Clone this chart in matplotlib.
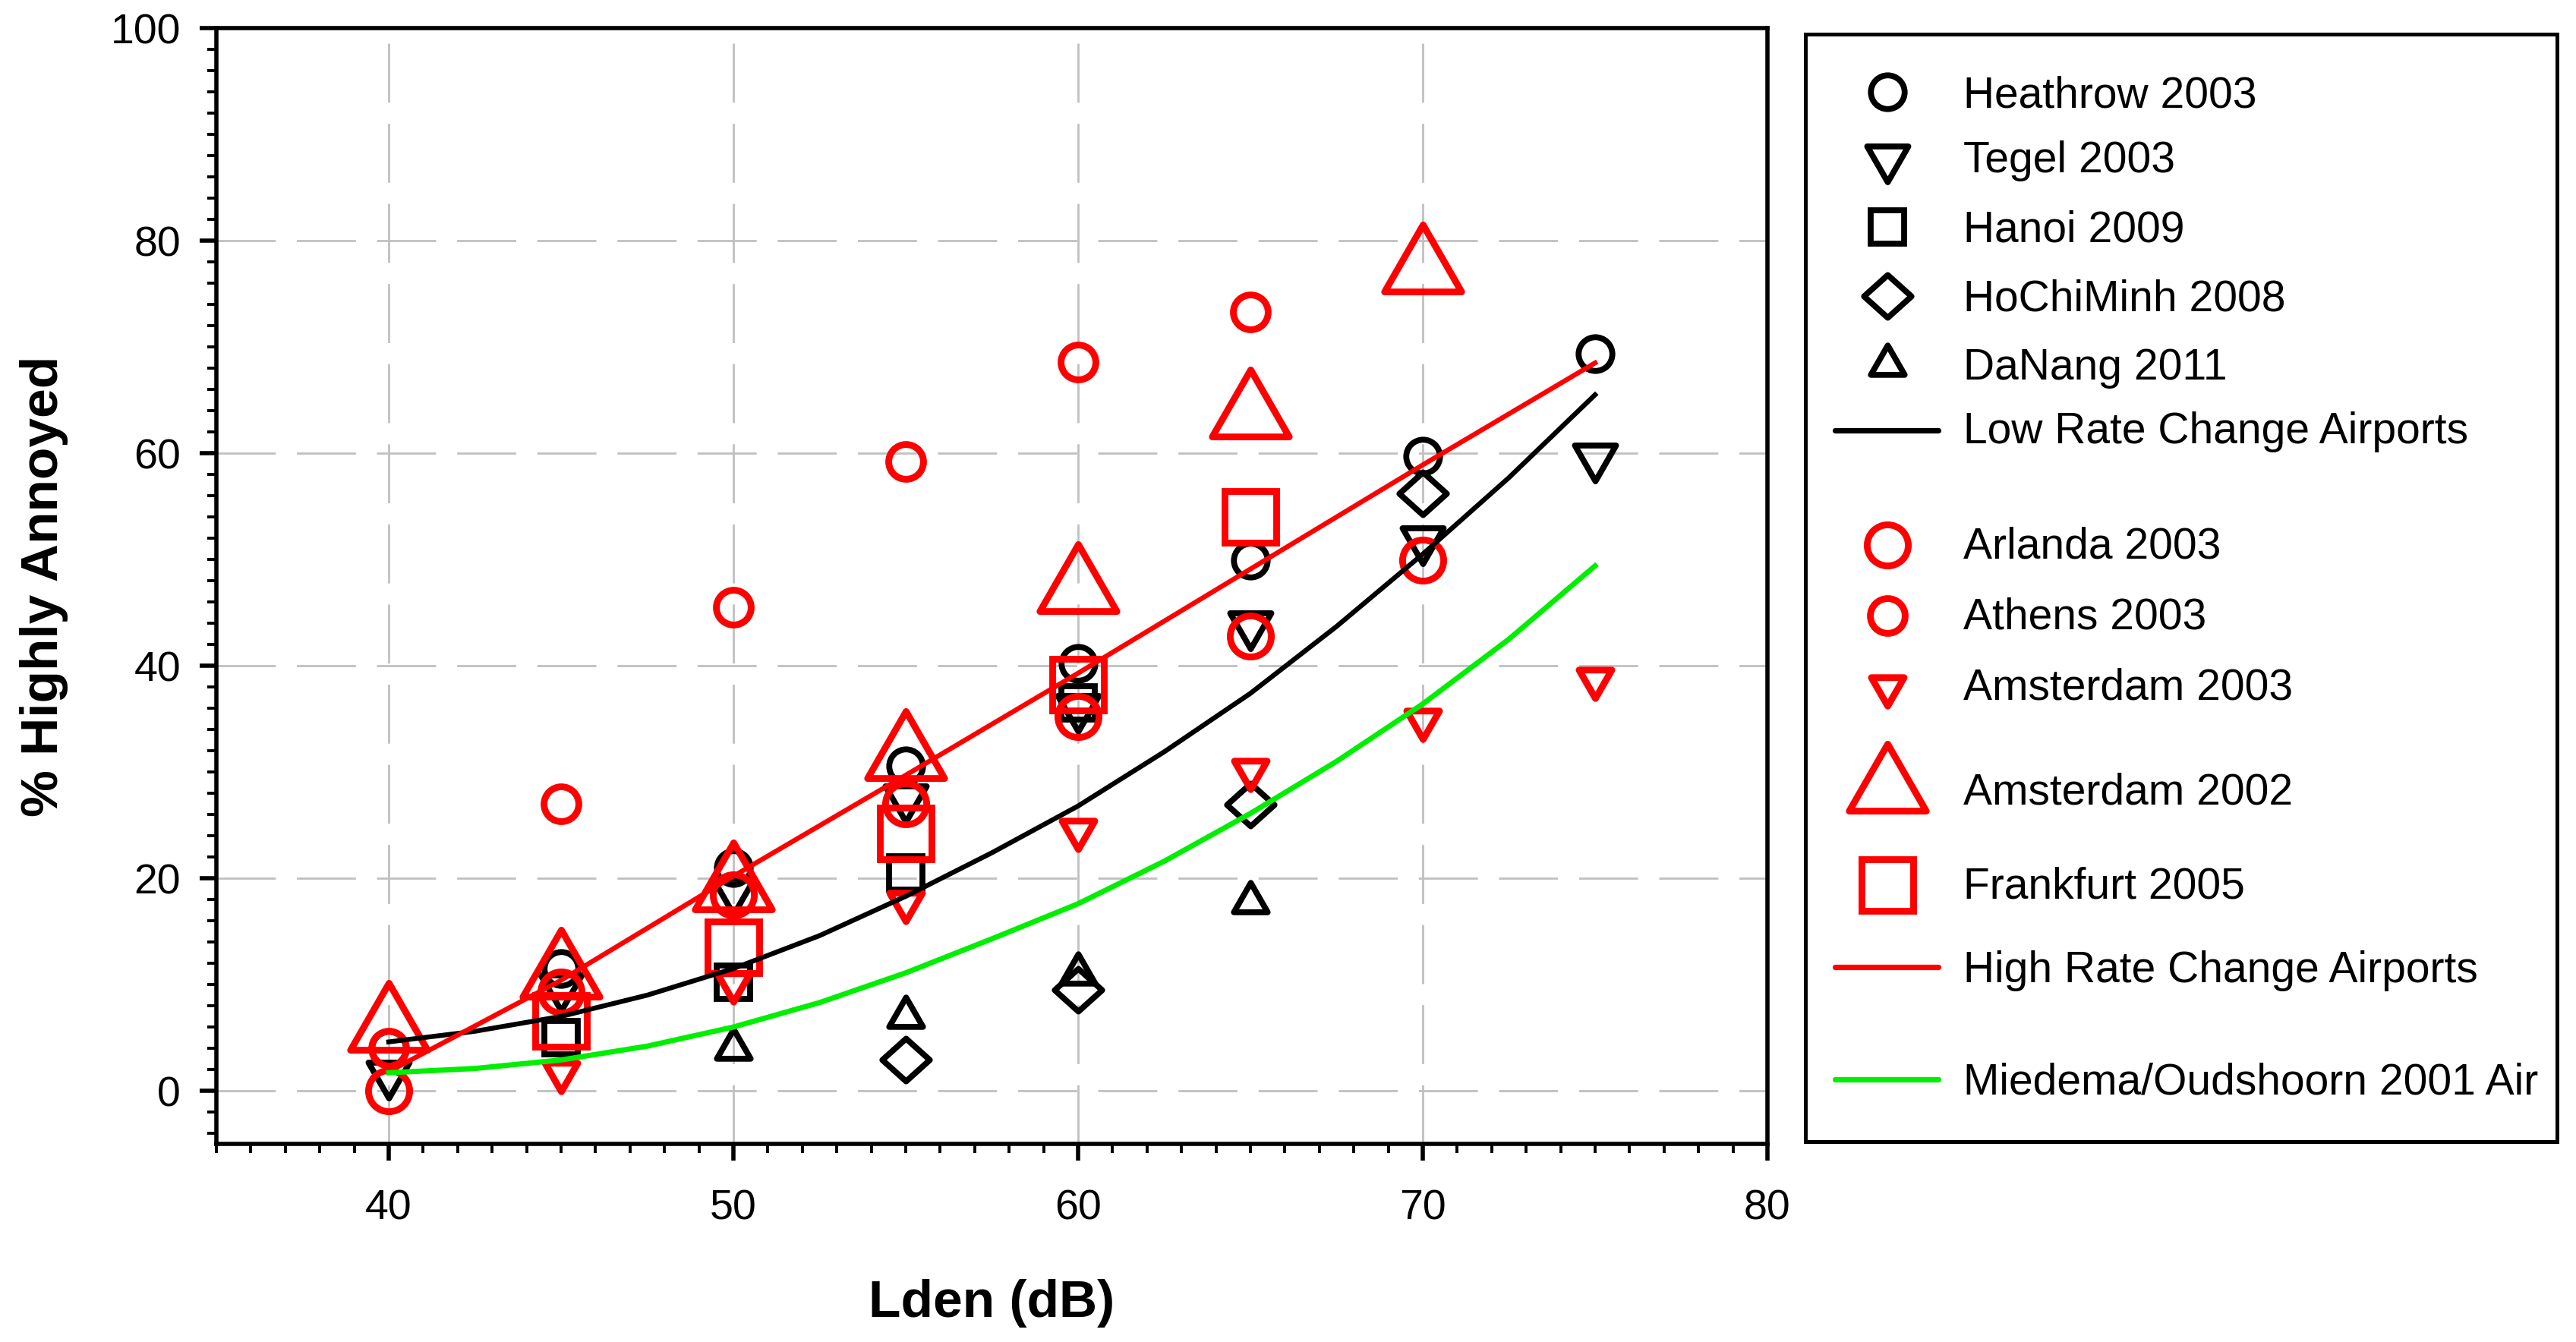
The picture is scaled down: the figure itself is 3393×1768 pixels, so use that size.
import matplotlib
matplotlib.use("Agg")
import matplotlib.pyplot as plt
import numpy as np
from matplotlib.path import Path
from matplotlib.markers import MarkerStyle
from matplotlib.ticker import MultipleLocator

plt.rcParams["font.family"] = ["Liberation Sans", "DejaVu Sans"]

# data
heathrow_x = [40, 45, 50, 55, 60, 65, 70, 75]
heathrow_y = [4.0, 11.5, 21.0, 30.6, 40.2, 49.9, 59.7, 69.4]
tegel_x = [40, 45, 50, 55, 60, 65, 70, 75]
tegel_y = [1.0, 9.2, 18.3, 27.0, 35.5, 43.3, 51.3, 59.1]
hanoi_x = [45, 50, 55, 60]
hanoi_y = [5.0, 10.2, 20.5, 36.5]
hcm_x = [55, 60, 65, 70]
hcm_y = [2.9, 9.5, 26.9, 56.2]
danang_x = [50, 55, 60, 65]
danang_y = [4.4, 7.4, 11.5, 18.2]

arlanda_x = [40, 45, 50, 55, 60, 65, 70]
arlanda_y = [0.0, 9.3, 18.4, 27.0, 35.2, 42.8, 49.9]
athens_x = [40, 45, 50, 55, 60, 65]
athens_y = [4.0, 27.0, 45.5, 59.2, 68.6, 73.3]
ams03_x = [45, 50, 55, 60, 65, 70, 75]
ams03_y = [1.3, 9.7, 17.3, 24.1, 29.7, 34.4, 38.3]
ams02_x = [40, 45, 50, 55, 60, 65, 70]
ams02_y = [7.0, 12.0, 20.2, 32.6, 48.3, 64.7, 78.4]
frank_x = [45, 50, 55, 60, 65]
frank_y = [6.6, 13.5, 24.2, 38.2, 54.0]

curve_x = [40, 42.5, 45, 47.5, 50, 52.5, 55, 57.5, 60, 62.5, 65, 67.5, 70, 72.5, 75]
low_rate_y = [4.6, 5.6, 7.0, 9.0, 11.5, 14.6, 18.3, 22.4, 26.8, 31.9, 37.4, 43.7, 50.5, 57.7, 65.5]
miedema_y = [1.7, 2.1, 2.9, 4.2, 6.0, 8.3, 11.1, 14.3, 17.6, 21.6, 26.1, 31.0, 36.4, 42.5, 49.4]
high_x = [40, 45, 50, 55, 60, 65, 70, 75]
high_rate_y = [1.8, 10.4, 20.2, 29.7, 39.3, 49.1, 58.9, 68.5]

RED = "#ff0000"
GREEN = "#00ee00"


def closed_marker(verts):
    verts = list(verts) + [(0, 0)]
    codes = [Path.MOVETO] + [Path.LINETO] * (len(verts) - 2) + [Path.CLOSEPOLY]
    return MarkerStyle(Path(verts, codes), joinstyle="miter")


tri_up = closed_marker([(0, 0.87), (-1, -0.87), (1, -0.87)])
tri_down = closed_marker([(0, -0.87), (-1, 0.87), (1, 0.87)])
diamond = closed_marker([(0, 0.9), (1, 0), (0, -0.9), (-1, 0)])

# name, x, y, marker, size, color, edge width
black_series = [
    ("Heathrow 2003", heathrow_x, heathrow_y, "o", 16, "black", 2.8),
    ("Tegel 2003", tegel_x, tegel_y, tri_down, 19.5, "black", 2.8),
    ("Hanoi 2009", hanoi_x, hanoi_y, "s", 15.5, "black", 2.8),
    ("HoChiMinh 2008", hcm_x, hcm_y, diamond, 22.5, "black", 2.8),
    ("DaNang 2011", danang_x, danang_y, tri_up, 16, "black", 2.8),
]
red_series = [
    ("Arlanda 2003", arlanda_x, arlanda_y, "o", 19.5, RED, 3.2),
    ("Athens 2003", athens_x, athens_y, "o", 16.5, RED, 3.2),
    ("Amsterdam 2003", ams03_x, ams03_y, tri_down, 15.5, RED, 3.2),
    ("Amsterdam 2002", ams02_x, ams02_y, tri_up, 36.5, RED, 3.2),
    ("Frankfurt 2005", frank_x, frank_y, "s", 24.5, RED, 3.2),
]

fig = plt.figure(figsize=(16.965, 8.84), dpi=200)
ax = fig.add_axes([0.0840, 0.1476, 0.6021, 0.8314])

for name, xs, ys, m, ms, c, mew in black_series + red_series:
    ax.plot(xs, ys, linestyle="none", marker=m, markersize=ms,
            markerfacecolor="none", markeredgecolor=c, markeredgewidth=mew)

ax.plot(curve_x, low_rate_y, color="black", lw=2.3)
ax.plot(high_x, high_rate_y, color=RED, lw=2.3)
ax.plot(curve_x, miedema_y, color=GREEN, lw=2.5)

ax.set_xlim(35, 80)
ax.set_ylim(-5, 100)
ax.xaxis.set_minor_locator(MultipleLocator(1))
ax.yaxis.set_minor_locator(MultipleLocator(2))
ax.set_xticks([40, 50, 60, 70, 80])
ax.set_yticks([0, 20, 40, 60, 80, 100])

ax.tick_params(which="major", direction="out", length=7.9, width=2.0,
               labelsize=20)
ax.tick_params(which="minor", direction="out", length=4.4, width=1.4)
ax.tick_params(axis="x", which="major", pad=13.5)
ax.tick_params(axis="y", which="major", pad=9)
for sp in ax.spines.values():
    sp.set_linewidth(2.0)

ax.set_axisbelow(True)
ax.grid(True, which="major", color="#c0c0c0", lw=1.0, linestyle=(0, (28, 10)))

ax.set_xlabel("Lden (dB)", fontsize=25, fontweight="bold")
ax.set_ylabel("% Highly Annoyed", fontsize=25, fontweight="bold")
ax.xaxis.set_label_coords(0.5, -0.121)
ax.yaxis.set_label_coords(-0.0956, 0.5)

# legend box, laid out in pixel units of the original picture
lax = fig.add_axes([0.7009, 0.1493, 0.2918, 0.8252])
lax.set_xlim(2378, 3368)
lax.set_ylim(1504, 45)
lax.set_xticks([])
lax.set_yticks([])
for sp in lax.spines.values():
    sp.set_linewidth(1.8)

marker_rows = [121, 216, 299, 390, 474, 718, 811, 911, 1024, 1166]
text_rows = [141, 227, 318, 409, 500, 735, 828, 921, 1059, 1183]
for (name, xs, ys, m, ms, c, mew), ym, yt in zip(black_series + red_series,
                                                  marker_rows, text_rows):
    lax.plot([2486], [ym], linestyle="none", marker=m, markersize=ms,
             markerfacecolor="none", markeredgecolor=c, markeredgewidth=mew)
    lax.text(2586, yt, name, fontsize=20.5, va="baseline", ha="left")

line_entries = [
    ("Low Rate Change Airports", "black", 567, 584),
    ("High Rate Change Airports", RED, 1274, 1294),
    ("Miedema/Oudshoorn 2001 Air", GREEN, 1422, 1441),
]
for name, c, yl, yt in line_entries:
    lax.plot([2417, 2553], [yl, yl], color=c, lw=2.6, solid_capstyle="round")
    lax.text(2586, yt, name, fontsize=20.5, va="baseline", ha="left")

fig.savefig("out.png", dpi=200)
